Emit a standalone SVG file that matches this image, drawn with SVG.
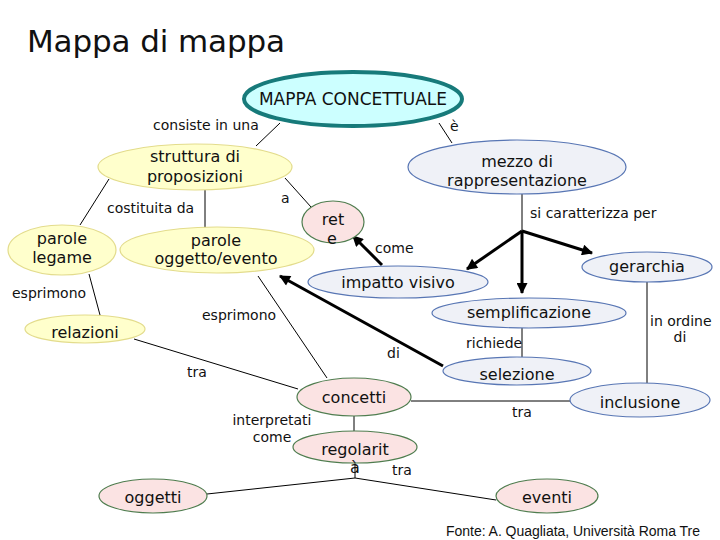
<svg xmlns="http://www.w3.org/2000/svg" width="720" height="540" viewBox="0 0 720 540">
<style>
text{font-family:"DejaVu Sans",Verdana,sans-serif;fill:#111}
.n{font-size:16px;text-anchor:middle}
.l{font-size:14px}
.y{fill:#ffffcc;stroke:#e3dc8c;stroke-width:1.2}
.p{fill:#fbe3e3;stroke:#4f7d4f;stroke-width:1.2}
.b{fill:#eff1f7;stroke:#5876b4;stroke-width:1.2}
.c line,.c path{stroke:#000;fill:none}
.t{stroke-width:1}
.k{stroke-width:3}
</style>
<defs>
<marker id="ah" viewBox="0 0 10 10" refX="9" refY="5" markerWidth="13" markerHeight="11" markerUnits="userSpaceOnUse" orient="auto"><path d="M0,0 L10,5 L0,10 z" fill="#000"/></marker>
</defs>
<rect width="720" height="540" fill="#fff"/>
<text x="27" y="52" style="font-size:31px" textLength="258">Mappa di mappa</text>

<g class="c" id="connectors">
<line class="t" x1="280" y1="123" x2="256" y2="146"/>
<line class="t" x1="439" y1="123" x2="452" y2="143"/>
<line class="t" x1="109" y1="179" x2="80" y2="225"/>
<line class="t" x1="205" y1="190" x2="205" y2="228"/>
<line class="t" x1="285" y1="178" x2="311" y2="207"/>
<line class="t" x1="522" y1="194" x2="522" y2="231"/>
<line class="k" x1="522" y1="231" x2="467" y2="269" marker-end="url(#ah)"/>
<line class="k" x1="522" y1="231" x2="592" y2="253" marker-end="url(#ah)"/>
<line class="k" x1="522" y1="231" x2="522" y2="293" marker-end="url(#ah)"/>
<line class="k" x1="382" y1="265" x2="353" y2="236" marker-end="url(#ah)"/>
<line class="k" x1="443" y1="366" x2="280" y2="276" marker-end="url(#ah)"/>
<line class="t" x1="647" y1="282" x2="647" y2="383"/>
<line class="t" x1="522" y1="328" x2="522" y2="357"/>
<line class="t" x1="89" y1="274" x2="100" y2="315"/>
<line class="t" x1="258" y1="276" x2="327" y2="378"/>
<line class="t" x1="134" y1="339" x2="298" y2="389"/>
<line class="t" x1="411" y1="401" x2="571" y2="401"/>
<line class="t" x1="354" y1="416" x2="354" y2="431"/>
<line class="t" x1="355" y1="463" x2="355" y2="478"/>
<line class="t" x1="207" y1="494" x2="355" y2="478"/>
<line class="t" x1="355" y1="478" x2="496" y2="500"/>
</g>

<g id="labels">
<text class="l" x="153" y="130">consiste in una</text>
<text class="l" x="450" y="131">è</text>
<text class="l" x="107" y="213">costituita da</text>
<text class="l" x="281" y="203">a</text>
<text class="l" x="530" y="218">si caratterizza per</text>
<text class="l" x="375" y="253">come</text>
<text class="l" x="12" y="298">esprimono</text>
<text class="l" x="202" y="320">esprimono</text>
<text class="l" x="650" y="326">in ordine</text>
<text class="l" x="680" y="342" text-anchor="middle">di</text>
<text class="l" x="466" y="348">richiede</text>
<text class="l" x="387" y="358">di</text>
<text class="l" x="187" y="377">tra</text>
<text class="l" x="512" y="417">tra</text>
<text class="l" x="272" y="425" text-anchor="middle">interpretati</text>
<text class="l" x="272" y="442" text-anchor="middle">come</text>
<text class="l" x="392" y="475">tra</text>
<text x="446" y="536" style="font-family:'Liberation Sans',Arial,sans-serif;font-size:14px" textLength="254">Fonte: A. Quagliata, Università Roma Tre</text>
</g>

<g id="mappa-concettuale">
<ellipse cx="353" cy="99" rx="109" ry="27" fill="#ccffff" stroke="#177a7a" stroke-width="4"/>
<text x="353" y="105" style="font-size:17px;text-anchor:middle">MAPPA CONCETTUALE</text>
</g>
<g id="struttura">
<ellipse class="y" cx="195" cy="167" rx="97" ry="23"/>
<text class="n" x="195" y="162">struttura di</text>
<text class="n" x="195" y="182">proposizioni</text>
</g>
<g id="mezzo">
<ellipse class="b" cx="517" cy="167" rx="109" ry="27"/>
<text class="n" x="517" y="167">mezzo di</text>
<text class="n" x="517" y="186">rappresentazione</text>
</g>
<g id="parole-legame">
<ellipse class="y" cx="62" cy="250" rx="54" ry="25"/>
<text class="n" x="62" y="244">parole</text>
<text class="n" x="62" y="263">legame</text>
</g>
<g id="parole-oggetto">
<ellipse class="y" cx="217" cy="250" rx="97" ry="23"/>
<text class="n" x="216" y="246">parole</text>
<text class="n" x="216" y="264">oggetto/evento</text>
</g>
<g id="rete">
<ellipse class="p" cx="333" cy="222" rx="31" ry="21"/>
<text class="n" x="333" y="225">ret</text>
<text class="n" x="332" y="244">e</text>
</g>
<g id="impatto">
<ellipse class="b" cx="398" cy="282" rx="90" ry="16"/>
<text class="n" x="398" y="288">impatto visivo</text>
</g>
<g id="gerarchia">
<ellipse class="b" cx="647" cy="267" rx="65" ry="15"/>
<text class="n" x="647" y="272">gerarchia</text>
</g>
<g id="semplificazione">
<ellipse class="b" cx="529" cy="313" rx="97" ry="15"/>
<text class="n" x="529" y="318">semplificazione</text>
</g>
<g id="relazioni">
<ellipse class="y" cx="85" cy="329" rx="60" ry="14"/>
<text class="n" x="85" y="338">relazioni</text>
</g>
<g id="selezione">
<ellipse class="b" cx="517" cy="371" rx="74" ry="14"/>
<text class="n" x="517" y="380">selezione</text>
</g>
<g id="concetti">
<ellipse class="p" cx="354" cy="397" rx="57" ry="19"/>
<text class="n" x="354" y="403">concetti</text>
</g>
<g id="inclusione">
<ellipse class="b" cx="640" cy="400" rx="70" ry="17"/>
<text class="n" x="640" y="408">inclusione</text>
</g>
<g id="regolarita">
<ellipse class="p" cx="355" cy="447" rx="62" ry="16"/>
<text class="n" x="355" y="455">regolarit</text>
<text class="n" x="355" y="473">à</text>
</g>
<g id="oggetti">
<ellipse class="p" cx="153" cy="496" rx="54" ry="17"/>
<text class="n" x="153" y="503">oggetti</text>
</g>
<g id="eventi">
<ellipse class="p" cx="547" cy="496" rx="51" ry="17"/>
<text class="n" x="547" y="503">eventi</text>
</g>
</svg>
